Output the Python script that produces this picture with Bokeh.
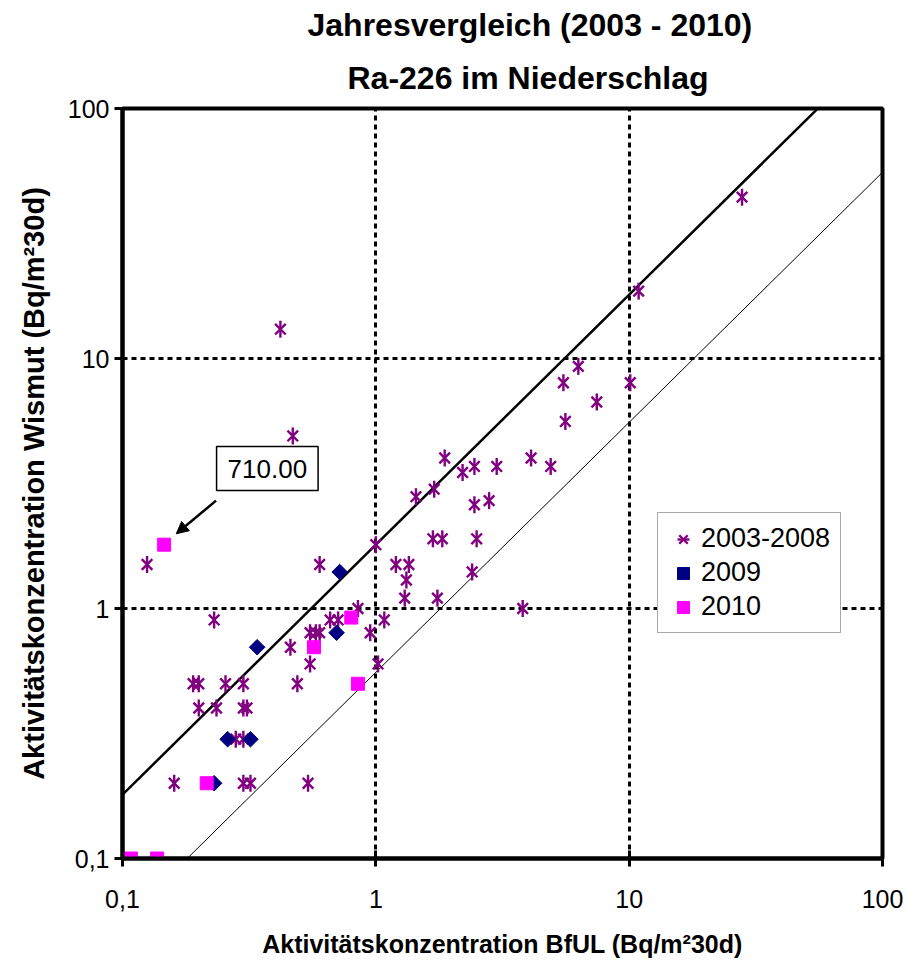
from bokeh.plotting import figure
from bokeh.models import Range1d, FixedTicker, Legend, LegendItem, Label, Arrow, NormalHead, Title
from bokeh.embed import file_html
from bokeh.resources import INLINE
import math

# ---- data ----
x_0308 = [27.9, 10.9, 0.42, 6.3, 5.5, 10.1, 7.45, 5.6, 0.47, 1.87, 4.1, 2.45, 3.0, 4.9, 2.2,
          1.7, 1.44, 2.8, 2.45, 1.68, 1.83, 2.5, 1.0, 0.125, 0.6, 1.2, 1.35, 2.4, 1.32, 1.3,
          1.75, 3.8, 0.85, 1.08, 0.23, 0.66, 0.71, 0.55, 0.58, 0.6, 0.95, 0.46, 0.55, 1.02,
          0.19, 0.2, 0.255, 0.3, 0.49, 0.2, 0.235, 0.3, 0.31, 0.28, 0.3, 0.16, 0.3, 0.32, 0.54]
y_0308 = [44.2, 18.6, 13.1, 9.3, 8.0, 8.0, 6.7, 5.6, 4.9, 4.0, 4.0, 3.7, 3.7, 3.7, 3.5,
          3.0, 2.8, 2.7, 2.6, 1.9, 1.9, 1.9, 1.8, 1.5, 1.5, 1.5, 1.5, 1.4, 1.3, 1.1,
          1.1, 1.0, 1.0, 0.9, 0.9, 0.9, 0.9, 0.8, 0.8, 0.8, 0.8, 0.7, 0.6, 0.6,
          0.5, 0.5, 0.5, 0.5, 0.5, 0.4, 0.4, 0.4, 0.4, 0.3, 0.3, 0.2, 0.2, 0.2, 0.2]

x_2009 = [0.72, 0.7, 0.34, 0.26, 0.32, 0.23]
y_2009 = [1.4, 0.8, 0.7, 0.3, 0.3, 0.2]

x_2010 = [0.146, 0.8, 0.57, 0.85, 0.215, 0.108, 0.137]
y_2010 = [1.8, 0.92, 0.7, 0.5, 0.2, 0.1, 0.1]

line_x = [0.1, 100.0]
band_factor = 1.8
upper_y = [v * band_factor for v in line_x]
lower_x = [0.1, 200.0]
lower_y = [v / band_factor for v in lower_x]

ticks = [0.1, 1, 10, 100]
tick_labels = {0.1: "0,1", 1: "1", 10: "10", 100: "100"}
grid_ticks = [1, 10]

title_lines = ["Jahresvergleich (2003 - 2010)", "Ra-226 im Niederschlag"]
x_title = "Aktivitätskonzentration BfUL (Bq/m²30d)"
y_title = "Aktivitätskonzentration Wismut (Bq/m²30d)"

anno_text = "710.00"
anno_label_xy = (0.373, 3.63)
anno_arrow_start = (0.234, 2.70)
anno_arrow_end = (0.163, 1.99)

FONT = "Liberation Sans"
PURPLE = "#800080"

p = figure(x_axis_type="log", y_axis_type="log", title=None,
           x_range=Range1d(0.1, 100), y_range=Range1d(0.1, 100),
           frame_width=760, frame_height=750,
           min_border_left=122, min_border_top=108, min_border_right=25, min_border_bottom=102,
           output_backend="svg", toolbar_location=None)

# title: two lines, nearest-to-frame line added first
for txt, off, stand in [(title_lines[1], 225, 25), (title_lines[0], 185, 6)]:
    p.add_layout(Title(text=txt, align="left", offset=off, standoff=stand,
                       text_font=FONT, text_font_size="32px", text_font_style="bold",
                       text_color="black"), "above")

p.background_fill_color = "white"
p.border_fill_color = "white"
p.outline_line_color = "black"
p.outline_line_width = 4

for ax in (p.xaxis, p.yaxis):
    ax.ticker = FixedTicker(ticks=ticks)
    ax.major_label_overrides = tick_labels
    ax.major_label_text_font = FONT
    ax.major_label_text_font_size = "25px"
    ax.major_label_text_color = "black"
    ax.axis_line_color = "black"
    ax.axis_line_width = 4
    ax.major_tick_line_color = "black"
    ax.major_tick_line_width = 3
    ax.minor_tick_line_color = None
    ax.axis_label_text_font = FONT
    ax.axis_label_text_font_style = "bold"
    ax.axis_label_text_color = "black"

p.xaxis.major_tick_in = 8
p.xaxis.major_tick_out = 8
p.yaxis.major_tick_in = 0
p.yaxis.major_tick_out = 8
p.xaxis.major_label_standoff = 23
p.yaxis.major_label_standoff = 5

p.xaxis.axis_label = x_title
p.xaxis.axis_label_text_font_size = "25px"
p.xaxis.axis_label_standoff = 19
p.yaxis.axis_label = y_title
p.yaxis.axis_label_text_font_size = "29px"
p.yaxis.axis_label_standoff = 15

for g in (p.xgrid, p.ygrid):
    g.ticker = FixedTicker(ticks=grid_ticks)
    g.grid_line_color = "black"
    g.grid_line_width = 3
    g.grid_line_dash = "5 4"

p.line(line_x, upper_y, line_color="black", line_width=2.5)
p.line(lower_x, lower_y, line_color="black", line_width=1)

r1a = p.scatter(x_0308, y_0308, marker="x", size=15, line_color=PURPLE, line_width=2.4)
r1b = p.scatter(x_0308, y_0308, marker="dash", angle=math.pi / 2, size=17,
                line_color=PURPLE, line_width=2.4)
r2 = p.scatter(x_2009, y_2009, marker="square", angle=math.pi / 4, size=11,
               fill_color="#000080", line_color="#000080")
r3 = p.scatter(x_2010, y_2010, marker="square", size=13, fill_color="#FF00FF", line_color="#FF00FF")

legend = Legend(items=[LegendItem(label="2003-2008", renderers=[r1a, r1b]),
                       LegendItem(label="2009", renderers=[r2]),
                       LegendItem(label="2010", renderers=[r3])],
                location=(535, 225), orientation="vertical",
                glyph_width=30, glyph_height=30, label_standoff=3, spacing=3, padding=10,
                label_text_font=FONT, label_text_font_size="27px", label_text_color="black",
                border_line_color="#555555", border_line_width=1.5,
                background_fill_color="white", background_fill_alpha=1.0)
p.add_layout(legend)

p.add_layout(Label(x=anno_label_xy[0], y=anno_label_xy[1], text=anno_text,
                   text_align="center", text_baseline="middle",
                   text_font=FONT, text_font_size="26px", text_color="black",
                   border_line_color="black", border_line_width=1.5,
                   background_fill_color="white",
                   padding=dict(left=11, right=11, top=13, bottom=13)))
p.add_layout(Arrow(end=NormalHead(size=12, fill_color="black", line_color="black"),
                   x_start=anno_arrow_start[0], y_start=anno_arrow_start[1],
                   x_end=anno_arrow_end[0], y_end=anno_arrow_end[1],
                   line_color="black", line_width=2.5))

open("out.html", "w").write(file_html(p, INLINE))
